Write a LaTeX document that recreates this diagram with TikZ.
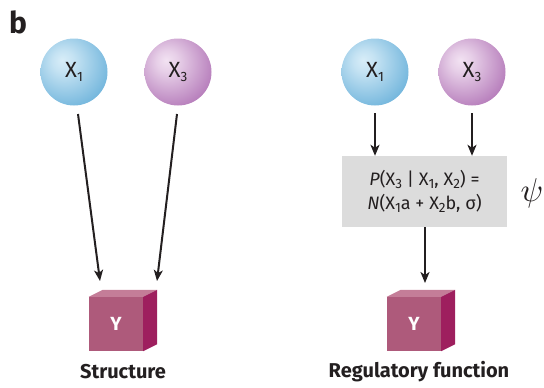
\documentclass[tikz,border=0pt]{standalone}
\usepackage{fontspec}
\setmainfont{Fira Sans}
\setsansfont{Fira Sans}
\usetikzlibrary{arrows.meta}
\definecolor{inkdark}{HTML}{231F20}
\definecolor{ballblueC}{HTML}{D8EDF8}
\definecolor{ballblueE}{HTML}{5BA9D6}
\definecolor{ballpurpC}{HTML}{F2E2F2}
\definecolor{ballpurpE}{HTML}{A865AE}
\definecolor{cubefront}{HTML}{AE5A7B}
\definecolor{cubetop}{HTML}{C47D98}
\definecolor{cubeside}{HTML}{9E1F5E}
\definecolor{boxgray}{HTML}{DCDCDC}
% sphere shadings with the highlight above and left of the centre
\pgfdeclareradialshading{blueshade}{\pgfpoint{-9bp}{9bp}}{%
  color(0bp)=(ballblueC); color(8bp)=(ballblueC!85!ballblueE);
  color(40bp)=(ballblueE); color(80bp)=(ballblueE)}
\pgfdeclareradialshading{purpshade}{\pgfpoint{-9bp}{9bp}}{%
  color(0bp)=(ballpurpC); color(8bp)=(ballpurpC!85!ballpurpE);
  color(40bp)=(ballpurpE); color(80bp)=(ballpurpE)}
\tikzset{
  ball/.style={circle, minimum size=67pt, inner sep=0pt, font=\fontsize{22}{22}\selectfont\color{inkdark}},
  blueball/.style={ball, shading=blueshade},
  purpball/.style={ball, shading=purpshade},
  cubefrontnode/.style={minimum width=54pt, minimum height=54pt, inner sep=0pt, fill=cubefront,
    text=white, font=\bfseries\fontsize{19}{19}\selectfont},
  arr/.style={line width=2pt, draw=inkdark, -{Stealth[length=11pt,width=9pt,inset=3pt]}},
  caption/.style={font=\bfseries\fontsize{20}{20}\selectfont, text=inkdark},
}
\newcommand{\sbs}[1]{\raisebox{-0.28ex}{\fontsize{13.5}{13.5}\selectfont #1}}
\newcommand{\drawcube}[1]{%
  \fill[cubetop] (#1.north west) -- ++(14pt,7pt) -- ([shift={(14pt,7pt)}]#1.north east) -- (#1.north east) -- cycle;
  \fill[cubeside] (#1.north east) -- ++(14pt,7pt) -- ([shift={(14pt,7pt)}]#1.south east) -- (#1.south east) -- cycle;
}
\begin{document}
\begin{tikzpicture}[x=1pt,y=-1pt]
  \useasboundingbox (0,0) rectangle (544,388);
  \node[font=\bfseries\fontsize{30}{30}\selectfont, text=inkdark] (lbl) at (18,22) {b};

  % structure panel
  \node[blueball] (sx1) at (74,72) {X\sbs{1}};
  \node[purpball] (sx3) at (178,72) {X\sbs{3}};
  \node[cubefrontnode] (sy) at (116,324) {Y};
  \drawcube{sy}
  \coordinate (sy1) at (100,281);
  \coordinate (sy3) at (157,281);
  \draw[arr] (78,114) -- (sy1);
  \draw[arr] (177,114) -- (sy3);
  \node[caption] (cap1) at (123,372) {Structure};

  % regulatory function panel
  \node[blueball] (rx1) at (375,72) {X\sbs{1}};
  \node[purpball] (rx3) at (472,72) {X\sbs{3}};
  \node[fill=boxgray, minimum width=165pt, minimum height=71pt, inner sep=0pt,
        align=center, font=\fontsize{18}{24}\selectfont, text=inkdark] (fn) at (424.5,191.5)
        {\textit{P}(X\sbs{3} | X\sbs{1}, X\sbs{2}) =\\
         \textit{N}(X\sbs{1}a + X\sbs{2}b, σ)};
  \node[text=inkdark, inner sep=0pt] (psi) at (532,193) {\scalebox{3.3}{$\psi$}};
  \draw[arr] (rx1.south |- 0,113) -- (rx1.south |- fn.north);
  \draw[arr] (rx3.south |- 0,113) -- (rx3.south |- fn.north);
  \node[cubefrontnode] (ry) at (414,324) {Y};
  \drawcube{ry}
  \draw[arr] (fn.south -| 425,0) -- (425,283);
  \node[caption] (cap2) at (419,372) {Regulatory function};
\end{tikzpicture}
\end{document}
